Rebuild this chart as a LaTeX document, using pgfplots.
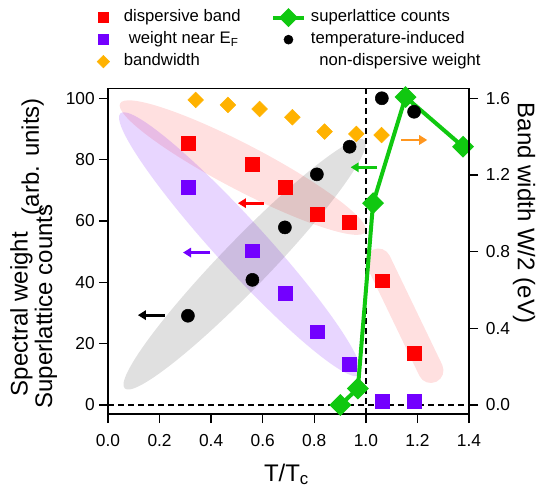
\documentclass[border=0pt]{standalone}
\usepackage{fontspec}
\setmainfont{Liberation Sans}
\usepackage{pgfplots}
\pgfplotsset{compat=1.18}
\usetikzlibrary{arrows.meta}
\definecolor{cred}{RGB}{255,0,0}
\definecolor{cpurple}{RGB}{115,0,255}
\definecolor{corange}{RGB}{255,178,0}
\definecolor{carrorange}{RGB}{255,150,30}
\definecolor{cgreen}{RGB}{16,200,16}
\begin{document}
\begin{tikzpicture}
\pgfplotsset{
  common/.style={
    scale only axis, width=270.75pt, height=244.3pt,
    xmin=0, xmax=1.4, clip=false,
    tick align=outside, major tick length=6.75pt,
    tick style={black, line width=1.1pt},
    axis line style={black, line width=1.1pt},
    tick label style={font=\fontsize{13}{15}\selectfont, /pgf/number format/assume math mode=true},
  }
}
\begin{axis}[common,
  ymin=-2.93, ymax=103.26,
  tick pos=left,
  xtick={0,0.2,0.4,0.6,0.8,1.0,1.2,1.4},
  ytick={0,20,40,60,80,100},
  xticklabel style={/pgf/number format/fixed, /pgf/number format/fixed zerofill, /pgf/number format/precision=1, anchor=base, inner sep=0pt, yshift=-17.25pt},
  yticklabel style={anchor=east, inner sep=0pt, xshift=-3pt},
  legend columns=2, legend cell align=left,
  legend style={at={(-0.0548,1.2444)}, anchor=north west, draw=none, fill=none, inner sep=0pt, outer sep=0pt,
    font=\fontsize{12.5}{14}\selectfont, row sep=3pt,
    nodes={inner sep=1pt, text height=9pt, text depth=2.5pt},
    /tikz/every odd column/.append style={column sep=3pt},
    /tikz/every even column/.append style={column sep=22pt}},
  legend image code/.code={\path[draw=none,fill=none] (0cm,-0.1cm) rectangle (0.8cm,0.1cm);\draw[mark repeat=2,mark phase=2,#1] plot coordinates {(0cm,0cm) (0.4cm,0cm) (0.8cm,0cm)};},
]
% shaded guides
\fill[cred, fill opacity=0.12] (axis cs:0.523,77.4) ellipse [x radius=103.9pt, y radius=17pt, rotate=-27.6];
\fill[cpurple, fill opacity=0.16] (axis cs:0.512,52.4) ellipse [x radius=133pt, y radius=18.75pt, rotate=-47.6];
\fill[black, fill opacity=0.12] (axis cs:0.530,45.9) ellipse [x radius=129.5pt, y radius=18pt, rotate=46];
\draw[cred, draw opacity=0.12, line width=19pt, line cap=round] (axis cs:1.048,46.9) -- (axis cs:1.252,11.3);
% reference lines
\addplot[black, line width=1.1pt, dash pattern=on 4.5pt off 3pt, forget plot] coordinates {(0,0) (1.4,0)};
\addplot[black, line width=1.1pt, dash pattern=on 4.5pt off 3pt, forget plot] coordinates {(1,-2.93) (1,103.26)};
% arrows
\draw[cred, line width=2.2pt, -{Triangle[length=6pt,width=7pt]}] (axis cs:0.604,65.8) -- (axis cs:0.504,65.8);
\draw[cpurple, line width=2.2pt, -{Triangle[length=6pt,width=7pt]}] (axis cs:0.397,49.7) -- (axis cs:0.291,49.7);
\draw[black, line width=2.2pt, -{Triangle[length=6pt,width=7pt]}] (axis cs:0.220,29.3) -- (axis cs:0.116,29.3);
\draw[cgreen, line width=2.2pt, -{Triangle[length=6pt,width=7pt]}] (axis cs:1.045,77.5) -- (axis cs:0.941,77.5);
\draw[carrorange, line width=2.2pt, -{Triangle[length=6pt,width=7pt]}] (axis cs:1.138,86.4) -- (axis cs:1.238,86.4);
% data
\addplot[only marks, mark=square*, mark size=5.2pt, color=cred, forget plot] coordinates {
(0.310,85.3) (0.560,78.5) (0.686,70.9) (0.810,62.3) (0.937,59.6) (1.062,40.5) (1.189,16.9)};
\addplot[only marks, mark=square*, mark size=5.2pt, color=cpurple, forget plot] coordinates {
(0.310,71.0) (0.560,50.3) (0.686,36.4) (0.810,23.9) (0.937,13.3) (1.062,1.1) (1.189,1.1)};
\addplot[only marks, mark=*, mark size=4.9pt, color=black, forget plot] coordinates {
(0.310,29.1) (0.560,40.8) (0.686,57.9) (0.810,75.2) (0.937,84.2) (1.062,100.0) (1.187,95.6)};
\addplot[cgreen, line width=3pt, mark=square*, mark size=4.3pt, mark options={rotate=45, solid}, forget plot] coordinates {
(0.901,0) (0.969,5.4) (1.028,65.8) (1.154,100.4) (1.377,84.2)};
% legend (row-wise: col 1 | col 2)
\addlegendimage{only marks, mark=square*, mark size=3.7pt, cred}
\addlegendentry{dispersive band}
\addlegendimage{cgreen, line width=3pt, mark=square*, mark size=3.5pt, mark options={rotate=45}}
\addlegendentry{superlattice counts}
\addlegendimage{only marks, mark=square*, mark size=3.7pt, cpurple}
\addlegendentry{\hspace{0.3em}weight near E\textsubscript{F}}
\addlegendimage{only marks, mark=*, mark size=3.4pt, black}
\addlegendentry{temperature-induced}
\addlegendimage{only marks, mark=square*, mark size=3.3pt, mark options={rotate=45}, corange}
\addlegendentry{bandwidth}
\addlegendimage{empty legend}
\addlegendentry{\hspace{0.5em}non-dispersive weight}
\end{axis}
\begin{axis}[common,
  ymin=-0.0469, ymax=1.652,
  axis x line=none, axis y line*=right,
  ytick={0,0.4,0.8,1.2,1.6},
  yticklabel style={/pgf/number format/fixed, /pgf/number format/fixed zerofill, /pgf/number format/precision=1, anchor=west, inner sep=0pt, xshift=5.75pt},
]
\addplot[only marks, mark=square*, mark size=4.15pt, mark options={rotate=45}, color=corange] coordinates {
(0.340,1.591) (0.465,1.565) (0.588,1.544) (0.715,1.501) (0.840,1.426) (0.963,1.414) (1.061,1.408)};
\end{axis}
\node[rotate=90, font=\fontsize{18}{20}\selectfont] at (-64.9pt,75pt) {Spectral weight};
\node[rotate=90, font=\fontsize{18}{20}\selectfont] at (-46.5pt,80.6pt) {Superlattice counts};
\node[rotate=90, font=\fontsize{18}{20}\selectfont] at (-56.5pt,193pt) {(arb. units)};
\node[rotate=-90, font=\fontsize{18}{20}\selectfont] at (312pt,150.75pt) {Band width W/2 (eV)};
\node[anchor=base, font=\fontsize{18}{20}\selectfont] at (133.9pt,-50.5pt) {T/T\textsubscript{c}};
\pgfresetboundingbox
\path[use as bounding box] (-81pt,-56.25pt) rectangle (327.75pt,310.5pt);
\end{tikzpicture}
\end{document}
